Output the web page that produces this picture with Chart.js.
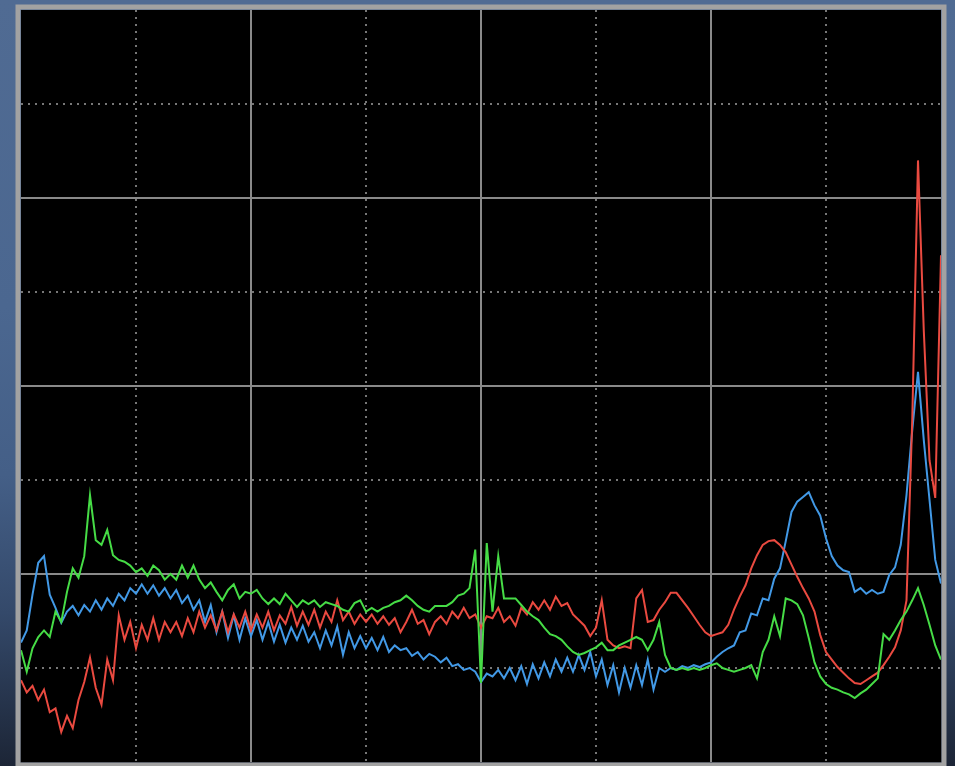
<!DOCTYPE html>
<html>
<head>
<meta charset="utf-8">
<script src="https://cdn.jsdelivr.net/npm/chart.js@4.4.1/dist/chart.umd.min.js"></script>
<style>
  html, body { margin: 0; padding: 0; overflow: hidden; }
  body {
    width: 955px; height: 766px;
    background: linear-gradient(to bottom, #506b93 0%, #4b6790 40%, #445f87 62%, #34496a 80%, #1c2536 100%);
  }
  #wrap { position: relative; width: 955px; height: 766px; }
</style>
</head>
<body>
<div id="wrap"><canvas id="scope"></canvas></div>
<script>
// sample positions along the horizontal axis (8 divisions, 20 samples each)
const freqs = Array.from({ length: 161 }, (_, i) => +(i * 0.05).toFixed(2));

// green trace
const greenVals = [
  1.19, 0.96, 1.21, 1.33, 1.40, 1.33, 1.60, 1.49, 1.81, 2.06,
  1.96, 2.19, 2.84, 2.36, 2.31, 2.47, 2.20, 2.15, 2.13, 2.09,
  2.02, 2.06, 1.98, 2.09, 2.04, 1.94, 2.00, 1.94, 2.09, 1.96,
  2.09, 1.94, 1.85, 1.91, 1.81, 1.72, 1.83, 1.89, 1.74, 1.81,
  1.79, 1.83, 1.74, 1.68, 1.74, 1.68, 1.79, 1.72, 1.65, 1.72,
  1.68, 1.72, 1.65, 1.70, 1.68, 1.66, 1.62, 1.60, 1.69, 1.72,
  1.60, 1.64, 1.60, 1.64, 1.66, 1.70, 1.72, 1.77, 1.72, 1.66,
  1.62, 1.60, 1.66, 1.66, 1.66, 1.70, 1.77, 1.79, 1.85, 2.26,
  0.84, 2.33, 1.60, 2.19, 1.74, 1.74, 1.74, 1.67, 1.60, 1.55,
  1.51, 1.43, 1.36, 1.34, 1.30, 1.23, 1.17, 1.14, 1.16, 1.19,
  1.22, 1.27, 1.19, 1.19, 1.24, 1.27, 1.30, 1.33, 1.30, 1.19,
  1.30, 1.49, 1.14, 1.00, 0.98, 1.00, 0.98, 1.00, 0.98, 1.00,
  1.03, 1.05, 1.00, 0.98, 0.96, 0.98, 1.00, 1.03, 0.89, 1.17,
  1.30, 1.55, 1.34, 1.74, 1.72, 1.68, 1.56, 1.32, 1.06, 0.91,
  0.83, 0.79, 0.77, 0.74, 0.72, 0.68, 0.73, 0.77, 0.83, 0.89,
  1.36, 1.30, 1.40, 1.51, 1.60, 1.72, 1.85, 1.67, 1.46, 1.24,
  1.09
];

// red trace
const redVals = [
  0.87, 0.74, 0.81, 0.66, 0.77, 0.53, 0.57, 0.32, 0.49, 0.36,
  0.66, 0.85, 1.11, 0.79, 0.61, 1.09, 0.87, 1.56, 1.30, 1.49,
  1.21, 1.46, 1.30, 1.53, 1.30, 1.49, 1.38, 1.49, 1.34, 1.53,
  1.38, 1.60, 1.43, 1.56, 1.40, 1.60, 1.38, 1.57, 1.43, 1.60,
  1.40, 1.57, 1.43, 1.60, 1.40, 1.56, 1.47, 1.65, 1.45, 1.60,
  1.46, 1.62, 1.43, 1.60, 1.49, 1.72, 1.51, 1.60, 1.47, 1.57,
  1.49, 1.57, 1.47, 1.55, 1.46, 1.53, 1.38, 1.49, 1.62, 1.47,
  1.51, 1.36, 1.49, 1.55, 1.47, 1.60, 1.53, 1.64, 1.53, 1.57,
  1.43, 1.55, 1.53, 1.64, 1.49, 1.55, 1.45, 1.64, 1.57, 1.70,
  1.62, 1.72, 1.62, 1.76, 1.66, 1.69, 1.57, 1.51, 1.45, 1.34,
  1.43, 1.72, 1.30, 1.24, 1.21, 1.23, 1.21, 1.74, 1.83, 1.49,
  1.51, 1.62, 1.70, 1.80, 1.80, 1.72, 1.64, 1.55, 1.46, 1.38,
  1.34, 1.36, 1.38, 1.46, 1.62, 1.76, 1.88, 2.06, 2.20, 2.31,
  2.35, 2.36, 2.31, 2.23, 2.10, 1.97, 1.85, 1.74, 1.60, 1.35,
  1.17, 1.09, 1.01, 0.95, 0.89, 0.84, 0.83, 0.87, 0.91, 0.95,
  1.03, 1.12, 1.22, 1.40, 1.72, 3.64, 6.40, 4.60, 3.21, 2.81,
  5.39
];

// blue trace
const blueVals = [
  1.27, 1.40, 1.78, 2.12, 2.19, 1.78, 1.64, 1.48, 1.60, 1.66,
  1.56, 1.67, 1.60, 1.72, 1.62, 1.74, 1.66, 1.79, 1.72, 1.85,
  1.79, 1.89, 1.79, 1.88, 1.77, 1.85, 1.74, 1.83, 1.69, 1.77,
  1.62, 1.72, 1.49, 1.67, 1.38, 1.60, 1.32, 1.56, 1.30, 1.53,
  1.34, 1.51, 1.30, 1.49, 1.28, 1.46, 1.27, 1.43, 1.30, 1.45,
  1.28, 1.38, 1.21, 1.40, 1.24, 1.44, 1.14, 1.38, 1.21, 1.34,
  1.21, 1.32, 1.19, 1.33, 1.17, 1.24, 1.19, 1.21, 1.13, 1.17,
  1.09, 1.15, 1.12, 1.06, 1.11, 1.02, 1.04, 0.98, 1.00, 0.96,
  0.85, 0.94, 0.91, 0.98, 0.89, 1.00, 0.87, 1.02, 0.83, 1.04,
  0.89, 1.06, 0.91, 1.09, 0.96, 1.11, 0.96, 1.14, 0.98, 1.17,
  0.91, 1.09, 0.82, 1.03, 0.74, 1.00, 0.79, 1.03, 0.82, 1.09,
  0.77, 1.00, 0.96, 1.00, 0.98, 1.02, 1.00, 1.03, 1.01, 1.04,
  1.06, 1.12, 1.17, 1.21, 1.24, 1.38, 1.40, 1.58, 1.56, 1.74,
  1.72, 1.95, 2.06, 2.35, 2.66, 2.77, 2.82, 2.87, 2.73, 2.62,
  2.38, 2.19, 2.09, 2.04, 2.02, 1.81, 1.85, 1.79, 1.83, 1.79,
  1.81, 1.99, 2.07, 2.31, 2.84, 3.53, 4.15, 3.43, 2.79, 2.15,
  1.90
];

// division lines: solid on even steps, dotted on odd ones
const majorColor = c => (c.tick && c.tick.value % 2 === 0 && c.tick.value > 0 && c.tick.value < 8) ? '#8a8a8a' : 'rgba(0,0,0,0)';
const minorColor = c => (c.tick && c.tick.value % 2 === 1) ? '#777777' : 'rgba(0,0,0,0)';

function gridAxis(axis, colorFn, dash) {
  return {
    type: 'linear',
    axis: axis,
    position: axis === 'x' ? 'bottom' : 'left',
    min: 0,
    max: 8,
    ticks: { display: false, stepSize: 1 },
    grid: { color: colorFn, lineWidth: 2, drawTicks: false },
    border: { display: false, dash: dash }
  };
}

// black screen + grey bezel around the plotting area
const screenFrame = {
  id: 'screenFrame',
  beforeDraw(chart) {
    const { ctx, chartArea: a } = chart;
    ctx.save();
    ctx.fillStyle = '#000';
    ctx.fillRect(a.left, a.top, a.width, a.height);
    ctx.restore();
  },
  afterDraw(chart) {
    const { ctx, chartArea: a } = chart;
    ctx.save();
    ctx.strokeStyle = '#a2a2a2';
    ctx.lineWidth = 5;
    ctx.strokeRect(a.left - 3, a.top - 3, a.width + 6, a.height + 6);
    ctx.restore();
  }
};

function trace(label, vals, color) {
  return {
    label: label,
    data: vals,
    borderColor: color,
    borderWidth: 2,
    pointRadius: 0,
    tension: 0,
    fill: false,
    xAxisID: 'x',
    yAxisID: 'y'
  };
}

new Chart(document.getElementById('scope'), {
  type: 'line',
  data: {
    labels: freqs,
    datasets: [
      trace('Green', greenVals, '#46dc46'),
      trace('Red', redVals, '#ea4a40'),
      trace('Blue', blueVals, '#4299e6')
    ]
  },
  options: {
    responsive: true,
    maintainAspectRatio: false,
    animation: false,
    layout: { padding: { left: 21, top: 10, right: 14, bottom: 4 } },
    plugins: { legend: { display: false }, tooltip: { enabled: false } },
    scales: {
      x: gridAxis('x', majorColor, []),
      y: gridAxis('y', majorColor, []),
      x2: gridAxis('x', minorColor, [2, 5]),
      y2: gridAxis('y', minorColor, [2, 5])
    }
  },
  plugins: [screenFrame]
});
</script>
</body>
</html>
